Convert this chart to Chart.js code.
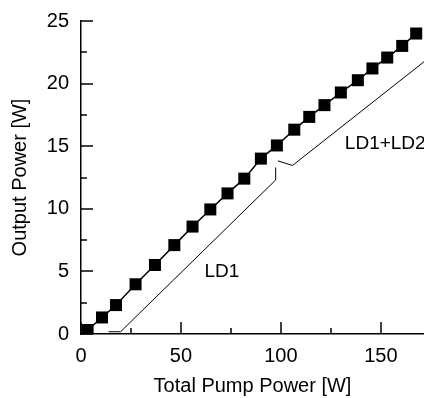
<!DOCTYPE html>
<html>
<head>
<meta charset="utf-8">
<script src="https://cdn.jsdelivr.net/npm/chart.js@4/dist/chart.umd.min.js"></script>
<style>
  html, body { margin: 0; padding: 0; background: #fff; overflow: hidden; }
  canvas { display: block; }
</style>
</head>
<body>
<canvas id="c" width="424" height="398"></canvas>
<script>
// ---- data ----
const pumpPower   = [3.3, 10.5, 17.5, 27.3, 37.0, 46.7, 55.8, 64.7, 73.3, 81.7, 90.0, 98.0, 106.7, 114.2, 121.8, 130.0, 138.5, 145.8, 153.2, 160.7, 167.7];
const outputPower = [0.32, 1.32, 2.31, 3.97, 5.51, 7.10, 8.58, 9.95, 11.23, 12.41, 14.01, 15.06, 16.32, 17.34, 18.28, 19.29, 20.27, 21.21, 22.08, 23.01, 24.0];

const ld1X = [13.8, 19.8, 97.4, 97.4];
const ld1Y = [0.18, 0.18, 12.3, 13.3];

const ld12X = [98.5, 105.8, 175];
const ld12Y = [13.83, 13.46, 22.17];

const xTicks = [0, 50, 100, 150];
const yTicks = [0, 5, 10, 15, 20, 25];

const labelLD1  = { text: 'LD1',     x: 70.5, y: 4.95, align: 'center' };
const labelLD12 = { text: 'LD1+LD2', x: 132,  y: 15.2, align: 'left' };

const toPts = (xs, ys) => xs.map((x, i) => ({ x, y: ys[i] }));

const FONT = '"Liberation Sans", Arial, sans-serif';

const extras = {
  id: 'extras',
  afterDraw(chart) {
    const ctx = chart.ctx;
    const xs = chart.scales.x, ys = chart.scales.y;
    const area = chart.chartArea;
    ctx.save();
    ctx.strokeStyle = '#000';
    ctx.lineWidth = 1.5;
    for (let v = 0; v <= xs.max; v += 25) {
      const px = Math.round(xs.getPixelForValue(v));
      const len = (v % 50 === 0) ? 12 : 6;
      ctx.beginPath();
      ctx.moveTo(px, area.bottom);
      ctx.lineTo(px, area.bottom - len);
      ctx.stroke();
    }
    for (let v = 0; v <= ys.max + 0.001; v += 2.5) {
      const py = Math.round(ys.getPixelForValue(v));
      const len = (Math.abs(v % 5) < 0.001) ? 12 : 6;
      ctx.beginPath();
      ctx.moveTo(area.left, py);
      ctx.lineTo(area.left + len, py);
      ctx.stroke();
    }
    ctx.fillStyle = '#000';
    ctx.font = '19px ' + FONT;
    ctx.textBaseline = 'middle';
    [labelLD1, labelLD12].forEach(l => {
      ctx.textAlign = l.align;
      ctx.fillText(l.text, xs.getPixelForValue(l.x), ys.getPixelForValue(l.y));
    });
    ctx.restore();
  }
};

new Chart(document.getElementById('c'), {
  type: 'scatter',
  data: {
    datasets: [
      {
        data: toPts(pumpPower, outputPower),
        showLine: true,
        borderColor: '#000',
        borderWidth: 1.5,
        backgroundColor: '#000',
        pointStyle: 'rect',
        pointRadius: 8.5,
        pointBorderWidth: 0,
        pointBackgroundColor: '#000',
        order: 1
      },
      {
        data: toPts(ld1X, ld1Y),
        showLine: true,
        borderColor: '#000',
        borderWidth: 1,
        pointRadius: 0,
        order: 2
      },
      {
        data: toPts(ld12X, ld12Y),
        showLine: true,
        borderColor: '#000',
        borderWidth: 1,
        pointRadius: 0,
        order: 2
      }
    ]
  },
  options: {
    responsive: false,
    devicePixelRatio: 1,
    animation: false,
    layout: { autoPadding: false, padding: { top: 21, right: 0, left: 0, bottom: 0 } },
    plugins: { legend: { display: false }, tooltip: { enabled: false } },
    scales: {
      x: {
        type: 'linear',
        min: 0,
        max: 171.6,
        afterFit: s => { s.height = 64; s.paddingLeft = 0; s.paddingRight = 0; },
        afterBuildTicks: s => { s.ticks = xTicks.map(v => ({ value: v })); },
        ticks: { color: '#000', font: { size: 20, family: FONT }, padding: 10, maxRotation: 0, autoSkip: false },
        grid: { display: false, drawTicks: false },
        border: { display: true, color: '#000', width: 1.5 },
        title: { display: true, text: 'Total Pump Power [W]', color: '#000', font: { size: 20, family: FONT }, padding: { top: 0, bottom: 0 } }
      },
      y: {
        type: 'linear',
        min: 0,
        max: 25,
        afterFit: s => { s.width = 81; s.paddingTop = 0; s.paddingBottom = 0; },
        afterBuildTicks: s => { s.ticks = yTicks.map(v => ({ value: v })); },
        ticks: { color: '#000', font: { size: 20, family: FONT }, padding: 12, autoSkip: false },
        grid: { display: false, drawTicks: false },
        border: { display: true, color: '#000', width: 1.5 },
        title: { display: true, text: 'Output Power [W]', color: '#000', font: { size: 20, family: FONT }, padding: { top: 8, bottom: 0 } }
      }
    }
  },
  plugins: [extras]
});
</script>
</body>
</html>
